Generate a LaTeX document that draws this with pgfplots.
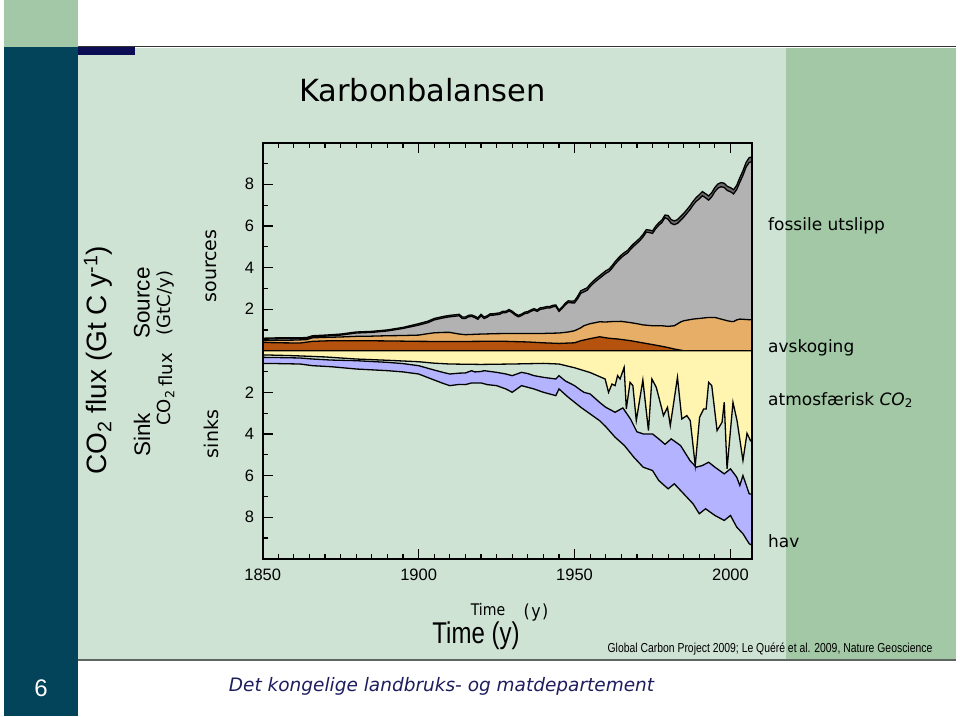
\documentclass[border=0pt]{standalone}
\usepackage{fontspec}
\setmainfont{Liberation Sans}
\usepackage{pgfplots}
\pgfplotsset{compat=1.18}
\newfontfamily\dvs{DejaVu Sans}
\newfontfamily\dvsc{DejaVu Sans}[FakeStretch=0.88]
\newfontfamily\lnarrow{Liberation Sans}[FakeStretch=0.8]
\definecolor{teal}{HTML}{03445B}
\definecolor{topgreen}{HTML}{A3C8A8}
\definecolor{panel}{HTML}{CFE3D5}
\definecolor{rightgreen}{HTML}{A2C8A5}
\definecolor{navy}{HTML}{0D0D55}
\definecolor{footer}{HTML}{1E1E5E}
\definecolor{cDark}{HTML}{6A6A6A}
\definecolor{cGray}{HTML}{B2B2B2}
\definecolor{cLor}{HTML}{E6AE66}
\definecolor{cBrown}{HTML}{B5520E}
\definecolor{cYel}{HTML}{FFF4B0}
\definecolor{cLav}{HTML}{B3B3FF}
\begin{document}
\begin{tikzpicture}
\begin{scope}[x=1pt,y=1pt]
\useasboundingbox (0,0) rectangle (960,716);
\fill[white] (0,0) rectangle (960,716);
\fill[topgreen] (4,669) rectangle (78,716);
\fill[teal] (4,0) rectangle (78,669);
\fill[panel] (78,56) rectangle (956,668);
\fill[rightgreen] (786,56) rectangle (956,668);
\draw[line width=1pt, black!80] (78,669) -- (956,669);
\fill[navy] (78,661) rectangle (135,669);
\draw[line width=2pt, black!55!panel] (78,56) -- (956,56);
\end{scope}

\begin{axis}[
  at={(262.7pt,157.3pt)}, anchor=south west,
  width=489.6pt, height=416pt, scale only axis,
  xmin=1850, xmax=2007, ymin=-10, ymax=10,
  clip=false,
  axis line style={draw=black, line width=1.8pt},
  xtick={1850,1900,1950,2000}, xticklabels={1850,1900,1950,2000},
  minor x tick num=9,
  ytick={-8,-6,-4,-2,2,4,6,8}, yticklabels={8,6,4,2,2,4,6,8},
  minor ytick={-9,-7,-5,-3,-1,1,3,5,7,9},
  tick align=inside, xtick pos=both, ytick pos=both,
  xticklabel pos=lower, yticklabel pos=left,
  major tick length=10pt, minor tick length=5pt,
  tick style={line width=1.2pt, black},
  /pgf/number format/assume math mode=true,
  ticklabel style={font=\fontsize{16.5}{18}\selectfont},
  yticklabel style={xshift=-5pt},
  xticklabel style={yshift=-7pt},
]
% fossil band (top line)
\addplot[fill=cDark, draw=black, line width=1.3pt] coordinates {
(1850,0.60)(1855,0.62)(1860,0.62)(1864,0.63)(1866,0.72)(1870,0.75)(1875,0.80)(1880,0.90)(1885,0.93)(1890,1.00)(1895,1.12)(1900,1.30)(1903,1.42)(1905,1.55)(1908,1.65)(1910,1.70)(1913,1.75)(1914,1.62)(1915,1.62)(1916,1.70)(1917,1.72)(1918,1.66)(1919,1.58)(1920,1.75)(1921,1.62)(1922,1.68)(1923,1.78)(1924,1.78)(1925,1.80)(1926,1.82)(1927,1.90)(1928,1.90)(1929,1.98)(1930,1.90)(1931,1.78)(1932,1.70)(1933,1.76)(1934,1.85)(1935,1.88)(1936,1.96)(1937,2.02)(1938,1.96)(1939,2.06)(1940,2.08)(1941,2.12)(1942,2.12)(1943,2.18)(1944,2.20)(1945,1.96)(1946,2.10)(1947,2.28)(1948,2.40)(1949,2.38)(1950,2.40)(1951,2.62)(1952,2.88)(1953,2.95)(1954,3.02)(1955,3.20)(1956,3.35)(1957,3.48)(1958,3.60)(1959,3.72)(1960,3.84)(1961,3.92)(1962,4.08)(1963,4.28)(1964,4.45)(1965,4.60)(1966,4.72)(1967,4.82)(1968,5.00)(1969,5.15)(1970,5.28)(1971,5.42)(1972,5.60)(1973,5.82)(1974,5.80)(1975,5.76)(1976,5.98)(1977,6.15)(1978,6.28)(1979,6.52)(1980,6.50)(1981,6.30)(1982,6.24)(1983,6.30)(1984,6.45)(1985,6.60)(1986,6.78)(1987,6.96)(1988,7.18)(1989,7.36)(1990,7.50)(1991,7.65)(1992,7.55)(1993,7.44)(1994,7.60)(1995,7.85)(1996,8.02)(1997,8.08)(1998,8.05)(1999,7.90)(2000,7.84)(2001,7.74)(2002,7.95)(2003,8.32)(2004,8.65)(2005,9.05)(2006,9.28)(2007,9.32)
} \closedcycle;
% fossil (gray)
\addplot[fill=cGray, draw=black, line width=1.3pt] coordinates {
(1850,0.55)(1855,0.57)(1860,0.57)(1864,0.58)(1866,0.67)(1870,0.70)(1875,0.75)(1880,0.85)(1885,0.88)(1890,0.95)(1895,1.07)(1900,1.23)(1903,1.35)(1905,1.48)(1908,1.58)(1910,1.63)(1913,1.68)(1914,1.55)(1915,1.55)(1916,1.63)(1917,1.65)(1918,1.59)(1919,1.51)(1920,1.68)(1921,1.55)(1922,1.61)(1923,1.71)(1924,1.71)(1925,1.73)(1926,1.75)(1927,1.83)(1928,1.83)(1929,1.91)(1930,1.83)(1931,1.71)(1932,1.63)(1933,1.69)(1934,1.78)(1935,1.81)(1936,1.89)(1937,1.95)(1938,1.89)(1939,1.99)(1940,2.01)(1941,2.05)(1942,2.05)(1943,2.11)(1944,2.13)(1945,1.89)(1946,2.03)(1947,2.20)(1948,2.32)(1949,2.30)(1950,2.30)(1951,2.50)(1952,2.76)(1953,2.83)(1954,2.90)(1955,3.08)(1956,3.23)(1957,3.36)(1958,3.48)(1959,3.60)(1960,3.72)(1961,3.80)(1962,3.96)(1963,4.16)(1964,4.33)(1965,4.48)(1966,4.60)(1967,4.70)(1968,4.88)(1969,5.03)(1970,5.16)(1971,5.30)(1972,5.48)(1973,5.70)(1974,5.68)(1975,5.64)(1976,5.86)(1977,6.03)(1978,6.16)(1979,6.40)(1980,6.32)(1981,6.12)(1982,6.06)(1983,6.12)(1984,6.27)(1985,6.42)(1986,6.60)(1987,6.78)(1988,7.00)(1989,7.18)(1990,7.30)(1991,7.45)(1992,7.35)(1993,7.24)(1994,7.40)(1995,7.65)(1996,7.82)(1997,7.88)(1998,7.85)(1999,7.70)(2000,7.64)(2001,7.54)(2002,7.75)(2003,8.10)(2004,8.43)(2005,8.83)(2006,9.05)(2007,9.10)
} \closedcycle;
% land use (light orange)
\addplot[fill=cLor, draw=black, line width=1.3pt] coordinates {
(1850,0.48)(1855,0.50)(1860,0.51)(1864,0.53)(1866,0.62)(1870,0.64)(1875,0.66)(1880,0.69)(1885,0.70)(1890,0.72)(1895,0.73)(1900,0.75)(1903,0.82)(1905,0.86)(1908,0.88)(1910,0.88)(1913,0.80)(1915,0.77)(1920,0.80)(1925,0.82)(1930,0.83)(1935,0.83)(1940,0.83)(1945,0.85)(1948,0.90)(1950,0.96)(1952,1.10)(1953,1.20)(1955,1.30)(1958,1.39)(1960,1.38)(1962,1.40)(1965,1.41)(1968,1.35)(1970,1.30)(1972,1.24)(1975,1.20)(1978,1.20)(1980,1.17)(1982,1.20)(1984,1.38)(1985,1.44)(1988,1.52)(1990,1.55)(1993,1.60)(1995,1.60)(1997,1.52)(1999,1.44)(2000,1.41)(2001,1.40)(2002,1.48)(2003,1.52)(2005,1.50)(2007,1.48)
} \closedcycle;
% land use (brown)
\addplot[fill=cBrown, draw=black, line width=1.3pt] coordinates {
(1850,0.40)(1855,0.38)(1862,0.37)(1866,0.45)(1872,0.48)(1882,0.48)(1890,0.47)(1900,0.45)(1910,0.44)(1920,0.45)(1928,0.45)(1935,0.42)(1940,0.38)(1945,0.35)(1950,0.38)(1952,0.48)(1955,0.58)(1958,0.67)(1961,0.60)(1964,0.56)(1968,0.48)(1971,0.40)(1974,0.32)(1977,0.24)(1980,0.15)(1982,0.08)(1985,0.0)(2007,0.0)
} \closedcycle;
% ocean sink (lavender, bottom)
\addplot[fill=cLav, draw=black, line width=1.3pt] coordinates {
(1850,-0.61)(1855,-0.62)(1862,-0.64)(1866,-0.72)(1872,-0.77)(1880,-0.88)(1890,-0.96)(1895,-1.02)(1900,-1.12)(1905,-1.41)(1908,-1.58)(1910,-1.68)(1913,-1.62)(1915,-1.63)(1917,-1.55)(1920,-1.55)(1922,-1.63)(1925,-1.68)(1928,-1.84)(1930,-2.0)(1933,-1.68)(1935,-1.76)(1937,-1.84)(1940,-2.0)(1944,-2.16)(1945,-1.84)(1948,-2.24)(1950,-2.48)(1952,-2.72)(1955,-3.04)(1958,-3.36)(1960,-3.65)(1963,-4.16)(1966,-4.56)(1969,-5.12)(1972,-5.6)(1975,-5.76)(1977,-6.24)(1980,-6.64)(1982,-6.4)(1985,-6.88)(1988,-7.36)(1990,-7.84)(1992,-7.6)(1995,-7.92)(1998,-8.16)(2000,-7.92)(2002,-8.48)(2004,-8.8)(2006,-9.28)(2007,-9.36)
} \closedcycle;
% land sink gap (top of ocean)
\addplot[fill=panel, draw=black, line width=1.3pt] coordinates {
(1850,-0.32)(1855,-0.33)(1862,-0.35)(1866,-0.40)(1872,-0.45)(1880,-0.48)(1890,-0.56)(1895,-0.62)(1900,-0.72)(1905,-0.93)(1908,-1.05)(1910,-1.12)(1913,-1.08)(1915,-1.07)(1917,-0.96)(1918,-1.02)(1920,-1.0)(1921,-0.96)(1922,-0.98)(1925,-1.04)(1928,-1.12)(1930,-1.2)(1933,-1.04)(1935,-1.1)(1937,-1.2)(1940,-1.28)(1944,-1.36)(1945,-1.2)(1947,-1.45)(1950,-1.68)(1952,-1.9)(1953,-2.0)(1955,-2.08)(1958,-2.48)(1960,-2.72)(1963,-2.96)(1965.5,-2.75)(1968,-3.3)(1970,-3.9)(1972,-4.0)(1975,-4.0)(1977,-4.24)(1979,-4.5)(1981,-4.24)(1984,-4.56)(1987,-5.28)(1989,-5.6)(1991,-5.52)(1993,-5.36)(1995,-5.6)(1998,-5.92)(2000,-5.68)(2002,-6.08)(2003,-6.48)(2004,-6.0)(2006,-6.88)(2007,-6.9)
} \closedcycle;
% atmospheric CO2 (yellow)
\addplot[fill=cYel, draw=black, line width=1.3pt] coordinates {
(1850,-0.2)(1860,-0.24)(1870,-0.3)(1880,-0.4)(1890,-0.46)(1900,-0.53)(1905,-0.6)(1910,-0.64)(1920,-0.66)(1930,-0.64)(1940,-0.61)(1945,-0.64)(1950,-0.82)(1955,-1.05)(1959.8,-1.36)(1960.9,-2.0)(1962,-1.6)(1963,-1.68)(1963.8,-1.2)(1964.6,-1.36)(1965.9,-0.8)(1966.6,-2.8)(1967.8,-1.52)(1968.7,-1.68)(1969.8,-3.36)(1971.9,-1.41)(1973.7,-3.84)(1974.8,-1.36)(1976.2,-1.76)(1978,-2.8)(1978.5,-3.12)(1979.8,-2.72)(1980.7,-3.6)(1983,-1.28)(1984.4,-3.28)(1986,-3.12)(1987.1,-3.36)(1988.7,-5.52)(1990.1,-3.2)(1991.4,-2.8)(1992.2,-2.8)(1993,-1.52)(1994,-1.68)(1995.7,-3.84)(1997.3,-3.44)(1998,-2.48)(1998.9,-5.68)(2000.8,-2.48)(2002.1,-3.36)(2004,-5.28)(2005.3,-3.97)(2006.4,-4.32)(2007,-4.4)
} \closedcycle;
\addplot[black, line width=1.5pt] coordinates {(1850,0)(2007,0)};
\end{axis}

\begin{scope}[x=1pt,y=1pt]
% plot frame
\draw[black, line width=1.8pt] (262.7,157.3) rectangle (752.3,573.3);
% title
\node[anchor=base, inner sep=0pt, font=\dvs\fontsize{30.5}{34}\selectfont] at (422.5,614) {Karbonbalansen};
% right labels
\begin{scope}[every node/.style={anchor=base west, inner sep=0pt, font=\dvs\fontsize{17}{19}\selectfont}]
\node at (768,485) {fossile utslipp};
\node at (768,364) {avskoging};
\node at (768,311) {atmosfærisk \textit{CO}\textsubscript{2}};
\node at (768,169) {hav};
\end{scope}
% left rotated labels
\node[rotate=90, inner sep=0pt, font=\fontsize{28}{30}\selectfont] at (98,356) {CO\textsubscript{2} flux (Gt C y\textsuperscript{-1})};
\node[rotate=90, inner sep=0pt, font=\fontsize{22.5}{24}\selectfont] at (142,413) {Source};
\node[rotate=90, inner sep=0pt, font=\fontsize{22.5}{24}\selectfont] at (142,281) {Sink};
\node[rotate=90, inner sep=0pt, font=\dvs\fontsize{18}{20}\selectfont] at (166,413) {(GtC/y)};
\node[rotate=90, inner sep=0pt, font=\dvs\fontsize{18}{20}\selectfont] at (166,346) {flux};
\node[rotate=90, inner sep=0pt, font=\dvs\fontsize{18}{20}\selectfont] at (166,308) {CO\textsubscript{2}};
\node[rotate=90, inner sep=0pt, font=\dvs\fontsize{19}{21}\selectfont] at (211,450) {sources};
\node[rotate=90, inner sep=0pt, font=\dvs\fontsize{19}{21}\selectfont] at (211,282) {sinks};
% bottom texts
\node[anchor=base, inner sep=0pt, font=\dvsc\fontsize{16}{18}\selectfont] at (488,101) {Time};
\node[anchor=base, inner sep=0pt, font=\dvsc\fontsize{18}{20}\selectfont] at (536,99) {(\kern1.5pt y\kern1.5pt)};
\node[anchor=base, inner sep=0pt, font=\lnarrow\fontsize{30}{32}\selectfont] at (476,73) {Time (y)};
\node[anchor=base, inner sep=0pt, font=\lnarrow\fontsize{13}{15}\selectfont] at (770,64) {Global Carbon Project 2009; Le Quéré et al. 2009, Nature Geoscience};
\node[anchor=base, inner sep=0pt, text=footer, font=\dvs\itshape\fontsize{18.5}{20}\selectfont] at (441.5,25) {Det kongelige landbruks- og matdepartement};
\node[inner sep=0pt, text=white, font=\fontsize{24}{26}\selectfont] at (41,28) {6};
\end{scope}
\end{tikzpicture}
\end{document}
